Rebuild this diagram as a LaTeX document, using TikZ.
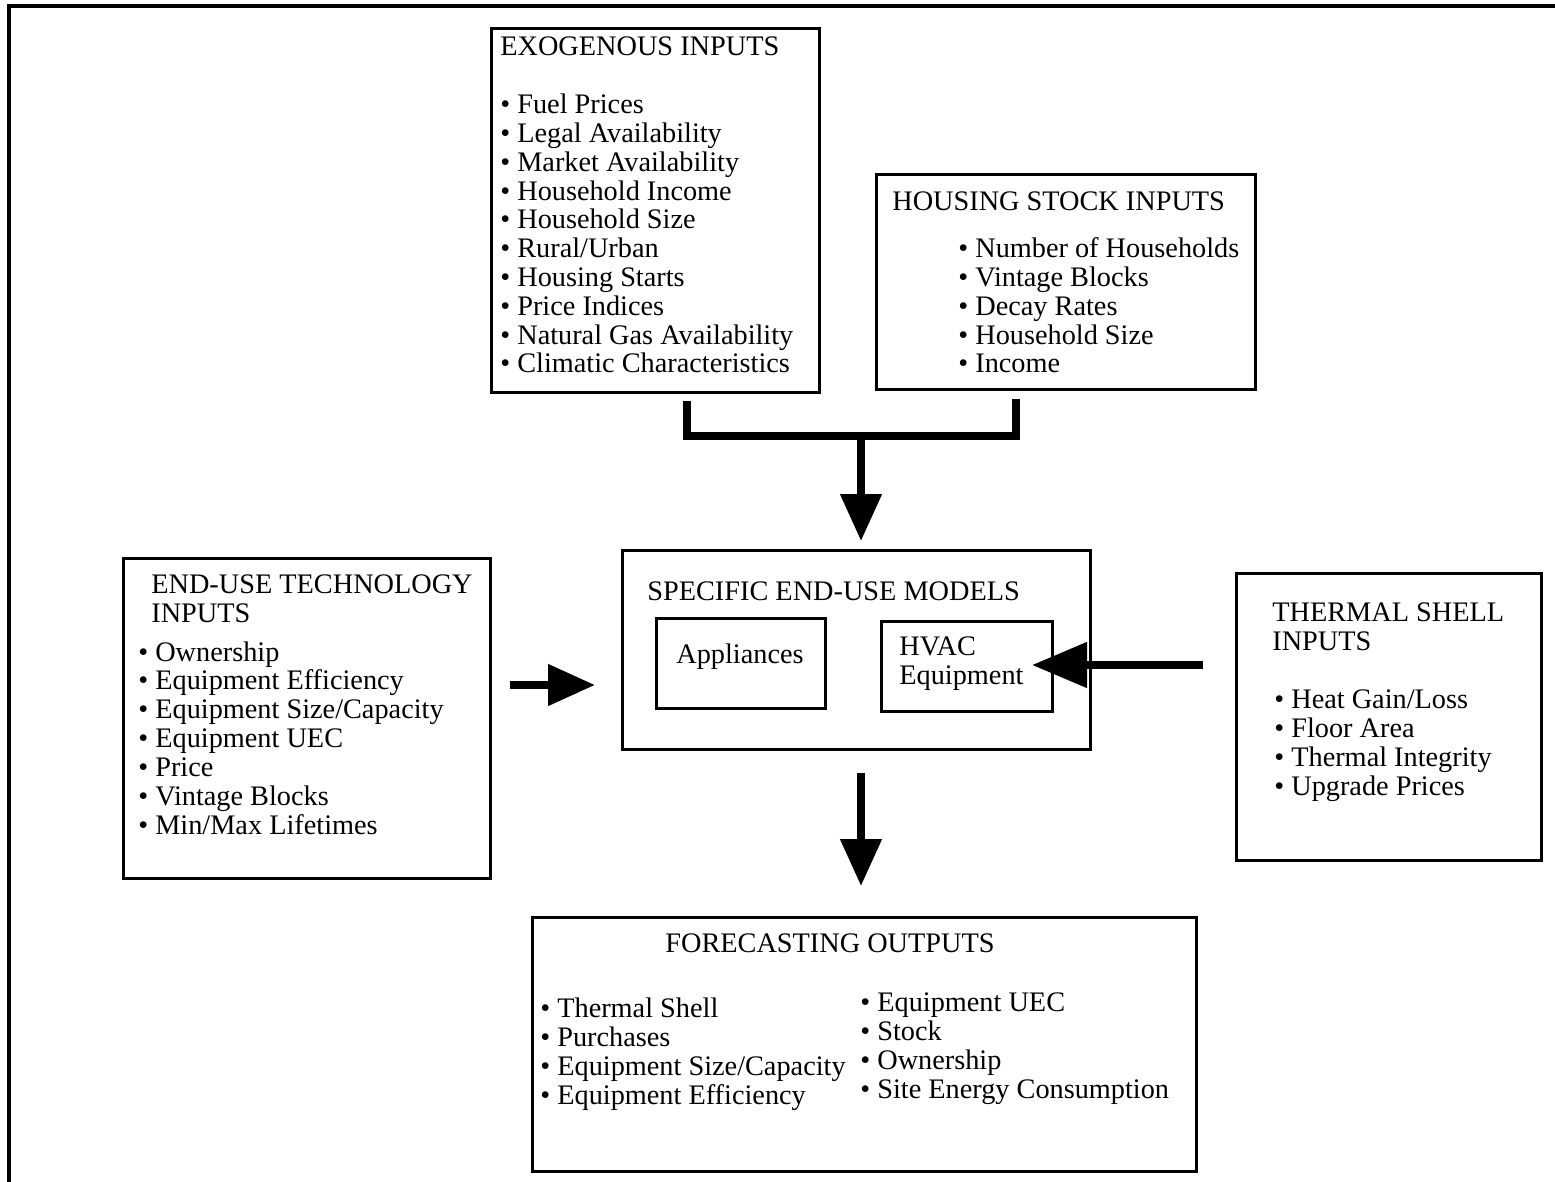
\documentclass[tikz,border=0pt]{standalone}
\usepackage{fontspec}
\setmainfont{Liberation Serif}
\usetikzlibrary{arrows.meta}

\begin{document}
\begin{tikzpicture}[x=0.02cm, y=-0.02cm,
    box/.style={draw, line width=1.6pt, anchor=north west, inner sep=0pt},
    txt/.style={anchor=base west, align=left, inner sep=0pt, font=\fontsize{16.1}{16.4}\selectfont},
    flow/.style={line width=4.5pt},
    bigarrow/.style={flow, -{Triangle[width=0.8cm, length=0.94cm]}}]
  \useasboundingbox (0,0) rectangle (1555,1182);
  % page frame
  \draw[line width=2.2pt] (9,1182) -- (9,6) -- (1555,6);

  % boxes
  \node[box, minimum width=6.56cm, minimum height=7.28cm] (exo) at (490,27) {};
  \node[box, minimum width=7.58cm, minimum height=4.30cm] (house) at (875,173) {};
  \node[box, minimum width=7.34cm, minimum height=6.40cm] (tech) at (122,557) {};
  \node[box, minimum width=9.36cm, minimum height=3.98cm] (models) at (621,549) {};
  \node[box, minimum width=3.38cm, minimum height=1.80cm] (appl) at (655,617) {};
  \node[box, minimum width=3.42cm, minimum height=1.80cm] (hvac) at (880,620) {};
  \node[box, minimum width=6.10cm, minimum height=5.74cm] (shell) at (1235,572) {};
  \node[box, minimum width=13.28cm, minimum height=5.08cm] (out) at (531,916) {};

  % texts (multi-line ones sit on their last baseline)
  \node[txt] (exo-t) at (500,56) {EXOGENOUS INPUTS};
  \node[txt] (exo-l) at (500,373) {\textbullet\ Fuel Prices\\
    \textbullet\ Legal Availability\\
    \textbullet\ Market Availability\\
    \textbullet\ Household Income\\
    \textbullet\ Household Size\\
    \textbullet\ Rural/Urban\\
    \textbullet\ Housing Starts\\
    \textbullet\ Price Indices\\
    \textbullet\ Natural Gas Availability\\
    \textbullet\ Climatic Characteristics};
  \node[txt] (house-t) at (892,211) {HOUSING STOCK INPUTS};
  \node[txt] (house-l) at (958,373) {\textbullet\ Number of Households\\
    \textbullet\ Vintage Blocks\\
    \textbullet\ Decay Rates\\
    \textbullet\ Household Size\\
    \textbullet\ Income};
  \node[txt] (tech-t) at (151,622) {END-USE TECHNOLOGY\\INPUTS};
  \node[txt] (tech-l) at (138,834) {\textbullet\ Ownership\\
    \textbullet\ Equipment Efficiency\\
    \textbullet\ Equipment Size/Capacity\\
    \textbullet\ Equipment UEC\\
    \textbullet\ Price\\
    \textbullet\ Vintage Blocks\\
    \textbullet\ Min/Max Lifetimes};
  \node[txt] (models-t) at (647,600) {SPECIFIC END-USE MODELS};
  \node[txt, anchor=center] (appl-t) at (740,657) {Appliances};
  \node[txt] (hvac-t) at (899,684) {HVAC\\Equipment};
  \node[txt] (shell-t) at (1272,650) {THERMAL SHELL\\INPUTS};
  \node[txt] (shell-l) at (1274,795) {\textbullet\ Heat Gain/Loss\\
    \textbullet\ Floor Area\\
    \textbullet\ Thermal Integrity\\
    \textbullet\ Upgrade Prices};
  \node[txt, anchor=base] (out-t) at (830,952) {FORECASTING OUTPUTS};
  \node[txt] (out-l) at (540,1104) {\textbullet\ Thermal Shell\\
    \textbullet\ Purchases\\
    \textbullet\ Equipment Size/Capacity\\
    \textbullet\ Equipment Efficiency};
  \node[txt] (out-r) at (860,1098) {\textbullet\ Equipment UEC\\
    \textbullet\ Stock\\
    \textbullet\ Ownership\\
    \textbullet\ Site Energy Consumption};

  % connectors
  \coordinate (jl) at (687,401);
  \coordinate (jr) at (1016,399);
  \coordinate (jm) at (861,436);
  \draw[flow] (jl) |- (jm) -| (jr);
  \draw[bigarrow, shorten >=0.16cm] (jm) -- (models.north -| jm);
  \coordinate (tech-a) at (510,685);
  \coordinate (tech-b) at (595,685);
  \draw[bigarrow] (tech-a) -- (tech-b);
  \coordinate (shell-a) at (1203,665);
  \coordinate (shell-b) at (1032,665);
  \draw[flow, -{Triangle[width=0.88cm, length=1.1cm]}] (shell-a) -- (shell-b);
  \coordinate (out-a) at (861,773);
  \coordinate (out-b) at (861,886);
  \draw[bigarrow] (out-a) -- (out-b);
\end{tikzpicture}
\end{document}
